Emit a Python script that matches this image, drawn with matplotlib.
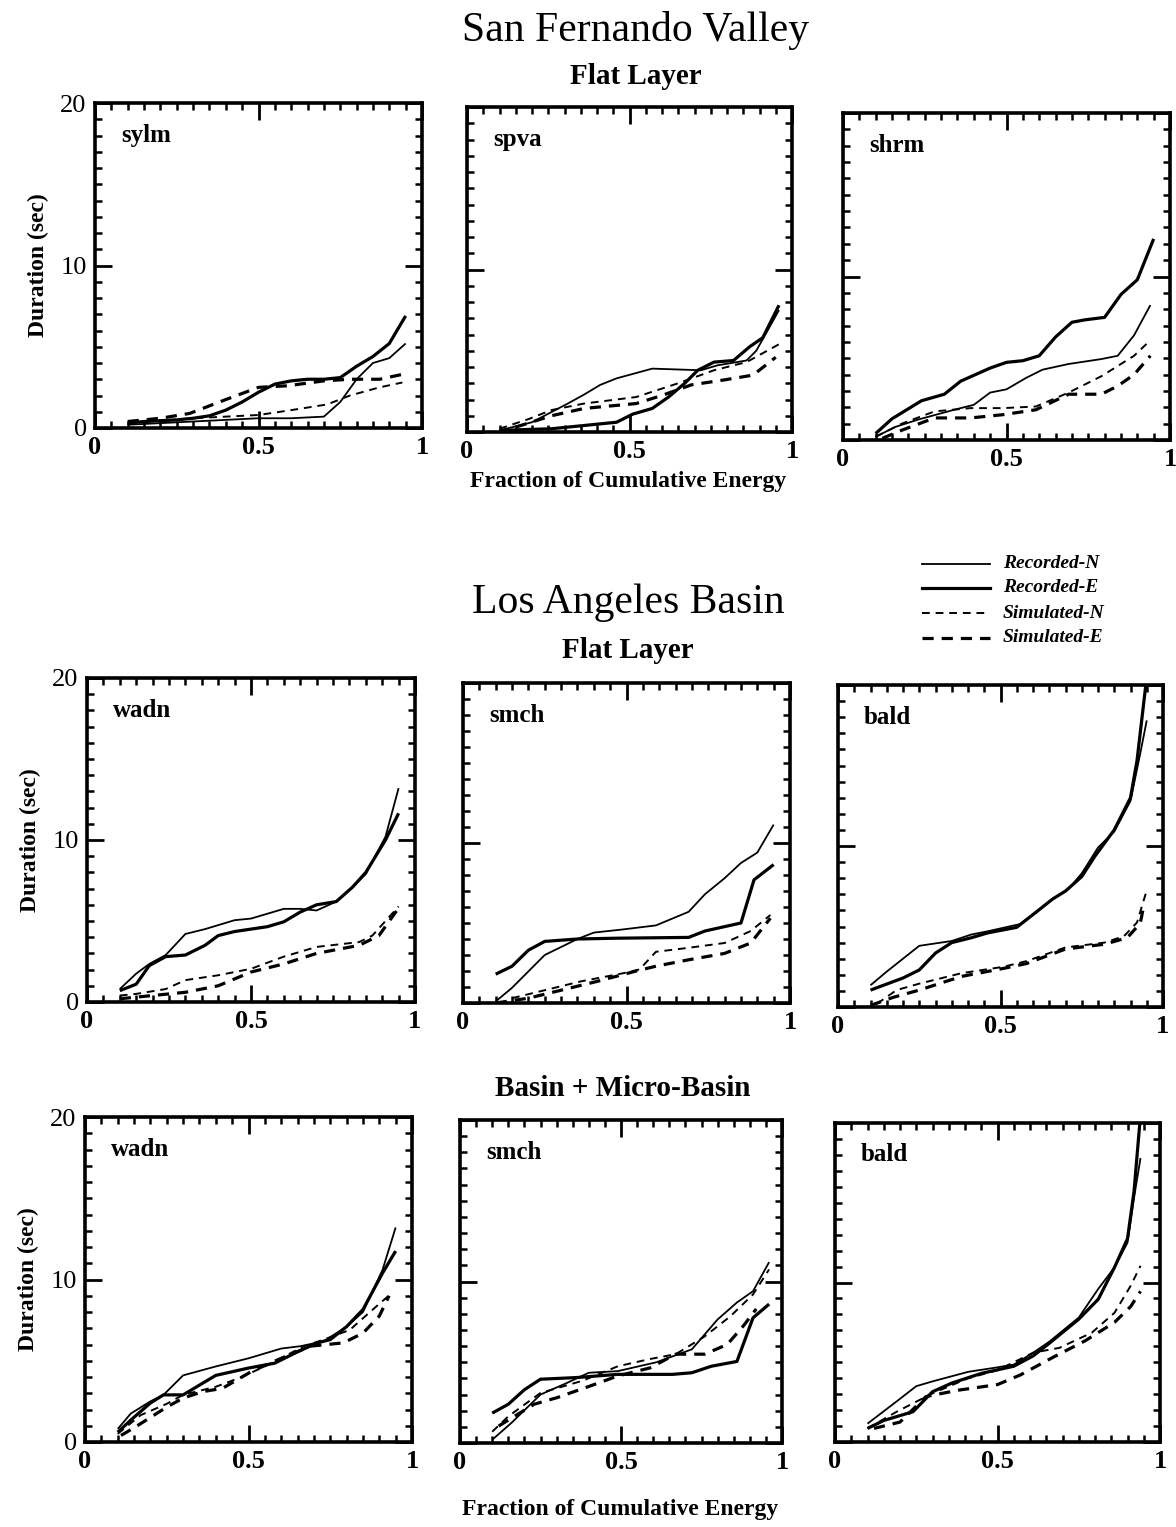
import matplotlib.pyplot as plt
from matplotlib.ticker import MultipleLocator

plt.rcParams['font.family'] = ['Liberation Serif', 'DejaVu Serif']

W, H = 1176, 1527

# ---- San Fernando Valley, flat layer ----
sylm_rn_x = [0.1, 0.2, 0.3, 0.4, 0.5, 0.6, 0.7, 0.75, 0.8, 0.85, 0.9, 0.95]
sylm_rn_y = [0.2, 0.3, 0.4, 0.5, 0.6, 0.6, 0.7, 1.6, 3.0, 4.0, 4.3, 5.2]
sylm_re_x = [0.1, 0.15, 0.2, 0.25, 0.3, 0.35, 0.4, 0.45, 0.5, 0.55, 0.6, 0.65, 0.7, 0.75, 0.8, 0.85, 0.9, 0.95]
sylm_re_y = [0.3, 0.4, 0.45, 0.5, 0.6, 0.75, 1.1, 1.6, 2.2, 2.7, 2.9, 3.0, 3.0, 3.1, 3.8, 4.4, 5.2, 6.9]
sylm_sn_x = [0.1, 0.2, 0.3, 0.4, 0.5, 0.6, 0.71, 0.78, 0.87, 0.94]
sylm_sn_y = [0.3, 0.45, 0.6, 0.7, 0.8, 1.1, 1.45, 2.0, 2.5, 2.8]
sylm_se_x = [0.1, 0.2, 0.29, 0.4, 0.5, 0.59, 0.7, 0.78, 0.87, 0.94]
sylm_se_y = [0.4, 0.6, 0.9, 1.75, 2.5, 2.6, 2.9, 3.0, 3.0, 3.3]

spva_rn_x = [0.1, 0.2, 0.31, 0.36, 0.41, 0.46, 0.57, 0.72, 0.77, 0.86, 0.89, 0.96]
spva_rn_y = [0.1, 0.6, 1.75, 2.3, 2.9, 3.3, 3.9, 3.8, 4.1, 4.4, 5.0, 7.5]
spva_re_x = [0.1, 0.26, 0.46, 0.51, 0.57, 0.62, 0.67, 0.71, 0.76, 0.82, 0.87, 0.91, 0.96]
spva_re_y = [0.1, 0.2, 0.6, 1.1, 1.45, 2.15, 3.0, 3.8, 4.3, 4.4, 5.25, 5.8, 7.8]
spva_sn_x = [0.1, 0.19, 0.26, 0.36, 0.52, 0.65, 0.76, 0.86, 0.96]
spva_sn_y = [0.2, 0.8, 1.35, 1.75, 2.15, 3.0, 3.8, 4.3, 5.4]
spva_se_x = [0.15, 0.26, 0.36, 0.52, 0.6, 0.69, 0.79, 0.88, 0.95]
spva_se_y = [0.3, 1.0, 1.45, 1.75, 2.25, 2.9, 3.2, 3.5, 4.6]

shrm_rn_x = [0.1, 0.16, 0.23, 0.34, 0.4, 0.45, 0.5, 0.56, 0.61, 0.69, 0.79, 0.84, 0.89, 0.94]
shrm_rn_y = [0.2, 0.8, 1.25, 1.85, 2.15, 2.9, 3.1, 3.8, 4.3, 4.65, 4.95, 5.15, 6.4, 8.25]
shrm_re_x = [0.1, 0.15, 0.24, 0.31, 0.36, 0.45, 0.5, 0.55, 0.6, 0.65, 0.7, 0.74, 0.8, 0.85, 0.9, 0.95]
shrm_re_y = [0.4, 1.3, 2.4, 2.8, 3.6, 4.4, 4.75, 4.85, 5.15, 6.3, 7.2, 7.35, 7.5, 8.9, 9.8, 12.3]
shrm_sn_x = [0.1, 0.18, 0.28, 0.39, 0.49, 0.59, 0.69, 0.79, 0.89, 0.94]
shrm_sn_y = [0.2, 1.0, 1.75, 1.95, 1.95, 2.05, 2.9, 3.9, 5.15, 6.1]
shrm_se_x = [0.12, 0.18, 0.28, 0.39, 0.49, 0.59, 0.69, 0.79, 0.84, 0.89, 0.94]
shrm_se_y = [0.1, 0.6, 1.35, 1.35, 1.55, 1.85, 2.8, 2.8, 3.3, 4.0, 5.15]

# ---- Los Angeles Basin, flat layer ----
wadn1_rn_x = [0.1, 0.15, 0.19, 0.24, 0.3, 0.36, 0.45, 0.5, 0.6, 0.65, 0.7, 0.76, 0.81, 0.85, 0.91, 0.95]
wadn1_rn_y = [0.8, 1.75, 2.35, 2.9, 4.2, 4.5, 5.05, 5.15, 5.75, 5.75, 5.65, 6.2, 7.1, 7.9, 10.2, 13.2]
wadn1_re_x = [0.1, 0.15, 0.19, 0.24, 0.3, 0.36, 0.4, 0.45, 0.55, 0.6, 0.65, 0.7, 0.76, 0.81, 0.85, 0.91, 0.95]
wadn1_re_y = [0.7, 1.1, 2.25, 2.8, 2.9, 3.5, 4.1, 4.35, 4.65, 4.95, 5.55, 6.0, 6.2, 7.1, 8.0, 10.0, 11.65]
wadn1_sn_x = [0.1, 0.15, 0.24, 0.3, 0.4, 0.5, 0.6, 0.7, 0.83, 0.87, 0.95]
wadn1_sn_y = [0.4, 0.5, 0.8, 1.35, 1.65, 2.05, 2.8, 3.4, 3.7, 4.1, 5.9]
wadn1_se_x = [0.1, 0.2, 0.3, 0.4, 0.5, 0.6, 0.7, 0.83, 0.89, 0.95]
wadn1_se_y = [0.2, 0.4, 0.6, 1.0, 1.85, 2.35, 3.0, 3.5, 4.1, 5.8]

smch1_rn_x = [0.1, 0.15, 0.25, 0.35, 0.4, 0.49, 0.59, 0.69, 0.74, 0.8, 0.85, 0.9, 0.95]
smch1_rn_y = [0.1, 0.95, 3.0, 4.0, 4.4, 4.6, 4.85, 5.7, 6.8, 7.8, 8.75, 9.4, 11.15]
smch1_re_x = [0.1, 0.15, 0.2, 0.25, 0.35, 0.47, 0.69, 0.74, 0.85, 0.89, 0.95]
smch1_re_y = [1.8, 2.3, 3.3, 3.85, 4.0, 4.05, 4.1, 4.5, 5.0, 7.7, 8.65]
smch1_sn_x = [0.15, 0.26, 0.36, 0.5, 0.54, 0.59, 0.69, 0.8, 0.88, 0.94]
smch1_sn_y = [0.3, 0.85, 1.35, 1.9, 2.1, 3.2, 3.45, 3.75, 4.5, 5.5]
smch1_se_x = [0.1, 0.2, 0.31, 0.41, 0.53, 0.59, 0.69, 0.8, 0.88, 0.94]
smch1_se_y = [0.0, 0.3, 0.85, 1.35, 2.0, 2.3, 2.7, 3.1, 3.75, 5.3]

bald1_rn_x = [0.1, 0.15, 0.25, 0.3, 0.35, 0.41, 0.46, 0.56, 0.61, 0.66, 0.71, 0.75, 0.8, 0.85, 0.9, 0.93, 0.95]
bald1_rn_y = [1.35, 2.2, 3.8, 3.95, 4.1, 4.5, 4.7, 5.15, 5.9, 6.7, 7.35, 8.3, 9.9, 10.9, 12.8, 15.75, 17.8]
bald1_re_x = [0.1, 0.2, 0.25, 0.3, 0.35, 0.41, 0.46, 0.55, 0.61, 0.66, 0.7, 0.75, 0.79, 0.85, 0.9, 0.92, 0.95]
bald1_re_y = [1.05, 1.8, 2.3, 3.35, 4.0, 4.3, 4.6, 4.95, 5.9, 6.7, 7.2, 8.1, 9.35, 11.0, 13.0, 15.3, 20.5]
bald1_sn_x = [0.12, 0.18, 0.25, 0.38, 0.51, 0.58, 0.7, 0.82, 0.88, 0.92, 0.95]
bald1_sn_y = [0.2, 1.05, 1.45, 2.1, 2.5, 2.85, 3.7, 4.0, 4.4, 5.25, 7.25]
bald1_se_x = [0.1, 0.17, 0.25, 0.38, 0.51, 0.58, 0.7, 0.82, 0.89, 0.93, 0.94]
bald1_se_y = [0.1, 0.6, 1.05, 1.9, 2.4, 2.7, 3.6, 3.9, 4.3, 5.2, 6.2]

# ---- Los Angeles Basin, basin + micro-basin ----
wadn2_rn_x = [0.1, 0.14, 0.2, 0.24, 0.3, 0.4, 0.5, 0.6, 0.66, 0.73, 0.8, 0.85, 0.91, 0.95]
wadn2_rn_y = [0.8, 1.75, 2.5, 2.9, 4.1, 4.65, 5.15, 5.75, 5.9, 6.2, 7.1, 8.0, 10.6, 13.2]
wadn2_re_x = [0.1, 0.14, 0.2, 0.24, 0.3, 0.35, 0.4, 0.5, 0.58, 0.65, 0.71, 0.75, 0.8, 0.85, 0.91, 0.95]
wadn2_re_y = [0.6, 1.35, 2.4, 2.9, 2.9, 3.5, 4.1, 4.55, 4.85, 5.55, 6.1, 6.3, 7.1, 8.15, 10.4, 11.75]
wadn2_sn_x = [0.1, 0.17, 0.25, 0.3, 0.4, 0.48, 0.57, 0.67, 0.73, 0.81, 0.88, 0.94]
wadn2_sn_y = [0.5, 1.65, 2.35, 2.9, 3.4, 4.0, 4.85, 5.9, 6.3, 6.9, 8.15, 9.2]
wadn2_se_x = [0.11, 0.16, 0.25, 0.3, 0.36, 0.42, 0.51, 0.6, 0.69, 0.79, 0.85, 0.9, 0.93]
wadn2_se_y = [0.4, 1.0, 2.15, 2.7, 3.1, 3.3, 4.35, 5.15, 5.9, 6.1, 6.7, 7.75, 9.0]

smch2_rn_x = [0.1, 0.16, 0.25, 0.33, 0.4, 0.49, 0.61, 0.72, 0.8, 0.86, 0.91, 0.96]
smch2_rn_y = [0.2, 1.25, 3.0, 3.7, 4.35, 4.45, 5.0, 5.8, 7.65, 8.7, 9.4, 11.2]
smch2_re_x = [0.1, 0.15, 0.2, 0.25, 0.36, 0.49, 0.66, 0.72, 0.78, 0.86, 0.91, 0.96]
smch2_re_y = [1.85, 2.4, 3.3, 3.95, 4.05, 4.25, 4.25, 4.35, 4.75, 5.05, 7.75, 8.6]
smch2_sn_x = [0.1, 0.15, 0.25, 0.38, 0.49, 0.59, 0.67, 0.76, 0.84, 0.91, 0.96]
smch2_sn_y = [0.7, 1.65, 3.1, 3.85, 4.75, 5.2, 5.5, 6.6, 7.85, 9.2, 10.75]
smch2_se_x = [0.12, 0.23, 0.3, 0.4, 0.49, 0.59, 0.67, 0.76, 0.83, 0.88, 0.92]
smch2_se_y = [1.05, 2.4, 2.8, 3.5, 4.15, 4.65, 5.5, 5.5, 6.1, 7.25, 8.3]

bald2_rn_x = [0.1, 0.19, 0.25, 0.3, 0.41, 0.49, 0.55, 0.61, 0.66, 0.75, 0.81, 0.86, 0.9, 0.92, 0.94]
bald2_rn_y = [1.15, 2.55, 3.5, 3.8, 4.4, 4.65, 4.85, 5.6, 6.3, 7.8, 9.6, 10.95, 12.5, 15.3, 17.8]
bald2_re_x = [0.1, 0.15, 0.24, 0.3, 0.36, 0.45, 0.55, 0.61, 0.66, 0.75, 0.81, 0.86, 0.9, 0.92, 0.94]
bald2_re_y = [0.85, 1.35, 1.9, 3.15, 3.7, 4.3, 4.75, 5.4, 6.2, 7.7, 8.95, 10.95, 12.75, 15.7, 20.5]
bald2_sn_x = [0.1, 0.19, 0.3, 0.41, 0.5, 0.61, 0.69, 0.79, 0.86, 0.91, 0.94]
bald2_sn_y = [0.85, 1.9, 3.05, 4.0, 4.5, 5.6, 5.9, 6.85, 8.1, 9.8, 11.05]
bald2_se_x = [0.12, 0.2, 0.28, 0.38, 0.5, 0.57, 0.67, 0.77, 0.86, 0.91, 0.94]
bald2_se_y = [0.85, 1.25, 2.85, 3.25, 3.6, 4.2, 5.3, 6.35, 7.5, 8.5, 9.45]

# panel name, pixel box (left, top, right, bottom), y labels shown, series
panels = [
    ("sylm", (95, 103, 422, 428), True,
     [(sylm_rn_x, sylm_rn_y), (sylm_re_x, sylm_re_y), (sylm_sn_x, sylm_sn_y), (sylm_se_x, sylm_se_y)]),
    ("spva", (467, 107, 792, 432), False,
     [(spva_rn_x, spva_rn_y), (spva_re_x, spva_re_y), (spva_sn_x, spva_sn_y), (spva_se_x, spva_se_y)]),
    ("shrm", (843, 113, 1170, 440), False,
     [(shrm_rn_x, shrm_rn_y), (shrm_re_x, shrm_re_y), (shrm_sn_x, shrm_sn_y), (shrm_se_x, shrm_se_y)]),
    ("wadn", (87, 678, 415, 1002), True,
     [(wadn1_rn_x, wadn1_rn_y), (wadn1_re_x, wadn1_re_y), (wadn1_sn_x, wadn1_sn_y), (wadn1_se_x, wadn1_se_y)]),
    ("smch", (463, 683, 790, 1003), False,
     [(smch1_rn_x, smch1_rn_y), (smch1_re_x, smch1_re_y), (smch1_sn_x, smch1_sn_y), (smch1_se_x, smch1_se_y)]),
    ("bald", (838, 685, 1163, 1007), False,
     [(bald1_rn_x, bald1_rn_y), (bald1_re_x, bald1_re_y), (bald1_sn_x, bald1_sn_y), (bald1_se_x, bald1_se_y)]),
    ("wadn", (85, 1117, 412, 1442), True,
     [(wadn2_rn_x, wadn2_rn_y), (wadn2_re_x, wadn2_re_y), (wadn2_sn_x, wadn2_sn_y), (wadn2_se_x, wadn2_se_y)]),
    ("smch", (460, 1120, 782, 1443), False,
     [(smch2_rn_x, smch2_rn_y), (smch2_re_x, smch2_re_y), (smch2_sn_x, smch2_sn_y), (smch2_se_x, smch2_se_y)]),
    ("bald", (835, 1123, 1160, 1442), False,
     [(bald2_rn_x, bald2_rn_y), (bald2_re_x, bald2_re_y), (bald2_sn_x, bald2_sn_y), (bald2_se_x, bald2_se_y)]),
]

labels = ["Recorded-N", "Recorded-E", "Simulated-N", "Simulated-E"]
styles = [dict(ls='-', lw=1.3), dict(ls='-', lw=2.3),
          dict(ls=(0, (4, 3)), lw=1.4), dict(ls=(0, (3.5, 2.5)), lw=2.3)]


def fx(x):
    return x / W


def fy(y):
    return 1 - y / H


fig = plt.figure(figsize=(W / 100, H / 100), dpi=100)

for name, (l, t, r, b), ylab, series in panels:
    ax = fig.add_axes([fx(l), fy(b), (r - l) / W, (b - t) / H])
    for (xs, ys), st in zip(series, styles):
        ax.plot(xs, ys, color='black', solid_capstyle='butt', **st)
    ax.set_xlim(0, 1)
    ax.set_ylim(0, 20)
    ax.xaxis.set_major_locator(MultipleLocator(0.5))
    ax.xaxis.set_minor_locator(MultipleLocator(0.05))
    ax.yaxis.set_major_locator(MultipleLocator(10))
    ax.yaxis.set_minor_locator(MultipleLocator(1))
    ax.tick_params(which='both', direction='in', top=True, right=True, color='black')
    ax.tick_params(which='major', length=12, width=2)
    ax.tick_params(which='minor', length=5, width=1.8)
    ax.tick_params(axis='x', labelsize=19, pad=6)
    ax.tick_params(axis='y', labelsize=19, pad=6)
    ax.set_xticks([0, 0.5, 1])
    ax.set_xticklabels(['0', '0.5', '1'], fontweight='bold')
    if ylab:
        ax.set_yticks([0, 10, 20])
        ax.set_yticklabels(['0', '10', '20'])
        ax.set_ylabel("Duration (sec)", fontsize=17, fontweight='bold', labelpad=8)
    else:
        ax.set_yticklabels([])
    for sp in ax.spines.values():
        sp.set_linewidth(2.6)
    ax.text(0.08, 0.9, name, transform=ax.transAxes, fontsize=18,
            fontweight='bold', va='center', ha='left')

# titles
fig.text(fx(636), fy(30), "San Fernando Valley", fontsize=30, ha='center', va='center')
fig.text(fx(636), fy(76), "Flat Layer", fontsize=21, fontweight='bold', ha='center', va='center')
fig.text(fx(628), fy(481), "Fraction of Cumulative Energy", fontsize=17,
         fontweight='bold', ha='center', va='center')
fig.text(fx(628), fy(603), "Los Angeles Basin", fontsize=30, ha='center', va='center')
fig.text(fx(628), fy(650), "Flat Layer", fontsize=21, fontweight='bold', ha='center', va='center')
fig.text(fx(623), fy(1088), "Basin + Micro-Basin", fontsize=21, fontweight='bold',
         ha='center', va='center')
fig.text(fx(620), fy(1510), "Fraction of Cumulative Energy", fontsize=17,
         fontweight='bold', ha='center', va='center')

# legend drawn by hand in figure coordinates
leg_rows = [564, 588, 613, 638]
for lab, st, yy in zip(labels, styles, leg_rows):
    fig.add_artist(plt.Line2D([fx(922), fx(990)], [fy(yy), fy(yy)], color='black', **st))
    fig.text(fx(1003), fy(yy), lab, fontsize=14, fontstyle='italic', fontweight='bold',
             ha='left', va='center')

fig.savefig("out.png", dpi=100, facecolor='white')
